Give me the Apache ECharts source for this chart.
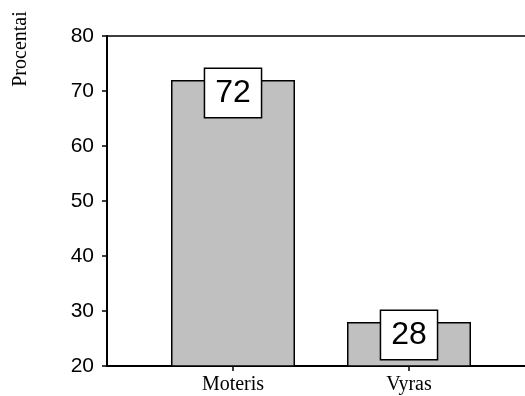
<!DOCTYPE html>
<html>
<head>
<meta charset="utf-8">
<script src="https://cdn.jsdelivr.net/npm/echarts@6/dist/echarts.min.js"></script>
<style>
  html, body { margin: 0; padding: 0; background: #fff; }
  #chart { width: 525px; height: 396px; }
</style>
</head>
<body>
<div id="chart"></div>
<script>
// Share of respondents by gender
const categories = ['Moteris', 'Vyras'];
const values = [72, 28];
const yTicks = { min: 20, max: 80, step: 10 };
const yTitle = 'Procentai';

const chart = echarts.init(document.getElementById('chart'), null, { renderer: 'canvas' });

const sans = 'Liberation Sans, Arial, sans-serif';
const serif = 'Liberation Serif, Times New Roman, serif';

const frameAxis = (pos, w) => ({
  gridIndex: 0, type: 'value', min: 0, max: 1, position: pos,
  axisLine: { show: true, onZero: false, lineStyle: { color: '#000', width: w } },
  axisTick: { show: false }, axisLabel: { show: false }, splitLine: { show: false }
});

chart.setOption({
  animation: false,
  backgroundColor: '#fff',
  grid: [
    { left: 107, right: 0, top: 36, bottom: 30 },   // frame with value scale
    { left: 145, right: 28, top: 36, bottom: 30 }   // bars
  ],
  graphic: [{
    type: 'text', x: 21, y: 49, rotation: Math.PI / 2,
    style: { text: yTitle, fill: '#000', font: '20px ' + serif, align: 'center', verticalAlign: 'middle' }
  }],
  xAxis: [
    frameAxis('bottom', 2),
    frameAxis('top', 1.5),
    {
      gridIndex: 1, type: 'category', data: categories,
      axisLine: { show: false },
      axisTick: { show: true, alignWithLabel: true, length: 5, lineStyle: { color: '#000', width: 1.5 } },
      axisLabel: { color: '#000', fontFamily: serif, fontSize: 20, margin: 9 },
      splitLine: { show: false }
    }
  ],
  yAxis: [
    {
      gridIndex: 0, type: 'value', min: yTicks.min, max: yTicks.max, interval: yTicks.step,
      axisLine: { show: true, lineStyle: { color: '#000', width: 2 } },
      axisTick: { show: true, length: 5, lineStyle: { color: '#000', width: 1.5 } },
      axisLabel: { color: '#000', fontFamily: sans, fontSize: 21, margin: 13 },
      splitLine: { show: false }
    },
    {
      gridIndex: 1, type: 'value', min: yTicks.min, max: yTicks.max, interval: yTicks.step,
      show: false, splitLine: { show: false }
    }
  ],
  series: [{
    type: 'bar', xAxisIndex: 2, yAxisIndex: 1,
    data: values, barWidth: 124,
    itemStyle: { color: '#c0c0c0', borderColor: '#000', borderWidth: 1.5 },
    label: {
      show: true, position: 'insideTop', distance: 0, offset: [0, -11],
      color: '#000', fontFamily: sans, fontSize: 32, lineHeight: 36,
      backgroundColor: '#fff', borderColor: '#000', borderWidth: 1.5,
      padding: [6, 10, 6, 10]
    }
  }]
});
</script>
</body>
</html>
